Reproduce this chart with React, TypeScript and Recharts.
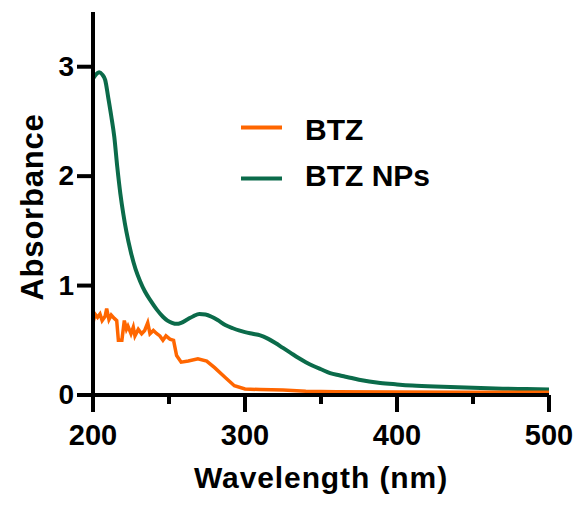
import React from 'react';
import { LineChart, Line, XAxis, YAxis } from 'recharts';

// UV-Vis spectra, values
const btzWavelength = [
  200, 201.3, 203, 204.6, 206, 208, 209, 210.5, 212, 214, 215.6, 216.7, 219, 220.6, 222, 223, 225,
  226.5, 227.6, 229.8, 232, 234, 236, 237.5, 239.7, 242, 244, 246, 248, 250.6, 253, 255, 258,
  262.7, 269, 274.8, 280, 287, 293, 300, 310, 325, 340, 360, 400, 450, 500,
];
const btzAbsorbance = [
  0.66, 0.74, 0.71, 0.74, 0.68, 0.72, 0.79, 0.69, 0.73, 0.7, 0.68, 0.5, 0.5, 0.68, 0.6, 0.63, 0.56,
  0.62, 0.54, 0.6, 0.56, 0.59, 0.66, 0.56, 0.59, 0.56, 0.54, 0.5, 0.54, 0.51, 0.5, 0.36, 0.3,
  0.31, 0.33, 0.31, 0.25, 0.16, 0.085, 0.055, 0.05, 0.045, 0.035, 0.03, 0.028, 0.026, 0.025,
];

const npsWavelength = [
  200, 202, 204, 206, 208, 210, 212, 214, 216, 218, 220, 222, 225, 228, 231, 234, 238, 242, 246,
  249, 252, 255, 258, 262, 266, 270, 274, 278, 282, 287, 292, 296, 300, 305, 310, 315, 320, 325,
  330, 335, 340, 345, 350, 356, 362, 367, 375, 389, 400, 410, 425, 440, 455, 470, 485, 500,
];
const npsAbsorbance = [
  2.89, 2.93, 2.95, 2.93, 2.88, 2.72, 2.55, 2.36, 2.08, 1.84, 1.65, 1.49, 1.3, 1.15, 1.04, 0.95,
  0.86, 0.78, 0.715, 0.68, 0.66, 0.65, 0.66, 0.69, 0.72, 0.74, 0.735, 0.715, 0.685, 0.64, 0.61,
  0.59, 0.575, 0.56, 0.545, 0.515, 0.475, 0.43, 0.385, 0.34, 0.3, 0.265, 0.235, 0.2, 0.18, 0.165,
  0.14, 0.11, 0.097, 0.087, 0.077, 0.07, 0.063, 0.058, 0.054, 0.05,
];

const xTicks = [200, 250, 300, 350, 400, 450, 500];
const yTicks = [0, 1, 2, 3];

const ORANGE = '#FF6600';
const GREEN = '#0B6B4A';
const FONT = '"Liberation Sans", Arial, Helvetica, sans-serif';

const btzData = btzWavelength.map((x, i) => ({ x, y: btzAbsorbance[i] }));
const npsData = npsWavelength.map((x, i) => ({ x, y: npsAbsorbance[i] }));

const XTick = (props: any) => {
  const { x, y, payload } = props;
  const major = payload.value % 100 === 0;
  return (
    <g>
      <line x1={x} x2={x} y1={y} y2={y + (major ? 17 : 9)} stroke="#000" strokeWidth={4} />
      {major && (
        <text x={x} y={y + 50} textAnchor="middle" fontFamily={FONT} fontWeight="bold" fontSize={29} fill="#000">
          {payload.value}
        </text>
      )}
    </g>
  );
};

const YTick = (props: any) => {
  const { x, y, payload } = props;
  return (
    <g>
      <line x1={x - 16} x2={x} y1={y} y2={y} stroke="#000" strokeWidth={4} />
      <text x={x - 19} y={y + 9} textAnchor="end" fontFamily={FONT} fontWeight="bold" fontSize={28} fill="#000">
        {payload.value}
      </text>
    </g>
  );
};

const XTitle = () => (
  <text x={321} y={488} textAnchor="middle" fontFamily={FONT} fontWeight="bold" fontSize={30} letterSpacing={0.9} fill="#000">
    Wavelength (nm)
  </text>
);

const YTitle = () => (
  <text
    x={0}
    y={0}
    transform="translate(43, 207) rotate(-90)"
    textAnchor="middle"
    fontFamily={FONT}
    fontWeight="bold"
    fontSize={31}
    letterSpacing={0.8}
    fill="#000"
  >
    Absorbance
  </text>
);

// legend drawn by hand so it doesn't take layout space
const LegendBox = () => (
  <svg width={220} height={100} style={{ position: 'absolute', left: 230, top: 100 }}>
    <line x1={11} x2={52} y1={27.5} y2={27.5} stroke={ORANGE} strokeWidth={4} />
    <text x={75} y={39.5} fontFamily={FONT} fontWeight="bold" fontSize={30} fill="#000">
      BTZ
    </text>
    <line x1={11} x2={52} y1={78.5} y2={78.5} stroke={GREEN} strokeWidth={4} />
    <text x={75} y={86} fontFamily={FONT} fontWeight="bold" fontSize={30} fill="#000">
      BTZ NPs
    </text>
  </svg>
);

export default function App() {
  return (
    <div style={{ position: 'absolute', left: 0, top: 0, width: 578, height: 509, background: '#fff' }}>
      <LineChart width={578} height={509} margin={{ top: 12, right: 29, bottom: 54, left: 33 }}>
        <XAxis
          dataKey="x"
          type="number"
          domain={[200, 500]}
          ticks={xTicks}
          interval={0}
          allowDataOverflow
          height={60}
          tickSize={0}
          tickMargin={0}
          tickLine={false}
          axisLine={{ stroke: '#000', strokeWidth: 4 }}
          tick={<XTick />}
          label={<XTitle />}
        />
        <YAxis
          type="number"
          domain={[0, 3.5]}
          ticks={yTicks}
          interval={0}
          width={60}
          tickSize={0}
          tickMargin={0}
          tickLine={false}
          axisLine={{ stroke: '#000', strokeWidth: 4 }}
          tick={<YTick />}
          label={<YTitle />}
        />
        <Line
          data={npsData}
          dataKey="y"
          name="BTZ NPs"
          type="monotone"
          stroke={GREEN}
          strokeWidth={4}
          dot={false}
          isAnimationActive={false}
        />
        <Line
          data={btzData}
          dataKey="y"
          name="BTZ"
          type="linear"
          stroke={ORANGE}
          strokeWidth={3.5}
          dot={false}
          isAnimationActive={false}
        />
      </LineChart>
      <LegendBox />
    </div>
  );
}
